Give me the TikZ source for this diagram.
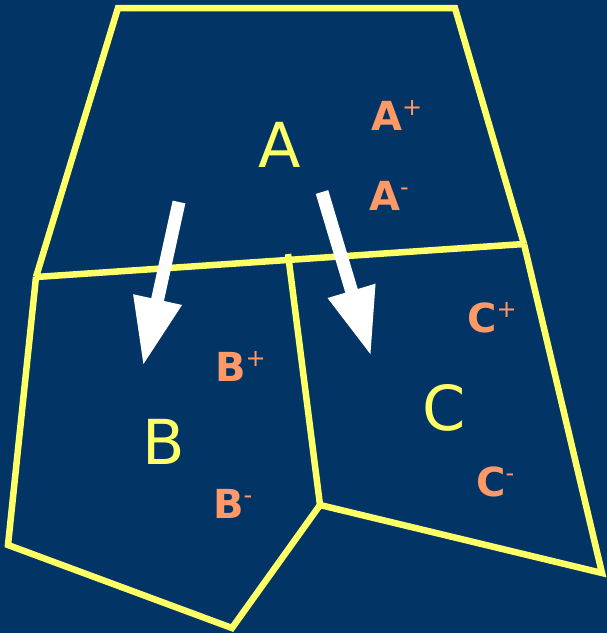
\documentclass[tikz,border=0pt]{standalone}
\usepackage{fontspec}
\setmainfont{DejaVu Sans}
\usetikzlibrary{arrows.meta}
\definecolor{bgblue}{HTML}{023466}
\definecolor{lineyellow}{HTML}{FFFF66}
\definecolor{labelorange}{HTML}{FF9966}
\tikzset{
  border/.style={draw=lineyellow, line width=6.5pt, line join=miter},
  flow/.style={draw=white, line width=13pt, -{Triangle[length=68pt,width=46pt]}},
  region/.style={text=lineyellow, font=\fontsize{62}{62}\selectfont, inner sep=0pt},
  pole/.style={text=labelorange, font=\fontsize{40}{40}\selectfont\bfseries, inner sep=0pt},
}
\newcommand{\supp}[1]{\raisebox{15pt}{\fontsize{24}{24}\selectfont\mdseries #1}}
\begin{document}
\begin{tikzpicture}[x=1pt,y=-1pt]
\fill[bgblue] (0,0) rectangle (607,633);
\useasboundingbox (0,0) rectangle (607,633);
% vertices
\coordinate (tl) at (118,8);
\coordinate (tr) at (455,8);
\coordinate (mr) at (524,244);
\coordinate (ml) at (36,277);
\coordinate (bl) at (8,545);
\coordinate (bm) at (232,628);
\coordinate (bj) at (320,505);
\coordinate (br) at (602,573);
\coordinate (mt) at (288,254);
% borders
\draw[border] (ml) -- (tl) -- (tr) -- (mr);
\draw[border] (ml) -- (mr);
\draw[border] (ml) -- (bl) -- (bm) -- (bj) -- (br) -- (mr);
\draw[border] (mt) -- (bj);
% arrows
\coordinate (a1s) at (179,202);
\coordinate (a1e) at (143,366);
\coordinate (a2s) at (322,192);
\coordinate (a2e) at (371,356);
\draw[flow] (a1s) -- (a1e);
\draw[flow] (a2s) -- (a2e);
% labels
\node[region] (A) at (280,145) {A};
\node[region] (B) at (164,442) {B};
\node[region] (C) at (444,408) {C};
\node[pole, anchor=west] (Ap) at (371,115) {A\supp{+}};
\node[pole, anchor=west] (Am) at (369,196) {A\supp{-}};
\node[pole, anchor=west] (Bp) at (215,366) {B\supp{+}};
\node[pole, anchor=west] (Bm) at (213,504) {B\supp{-}};
\node[pole, anchor=west] (Cp) at (467,318) {C\supp{+}};
\node[pole, anchor=west] (Cm) at (476,482) {C\supp{-}};
\end{tikzpicture}
\end{document}
